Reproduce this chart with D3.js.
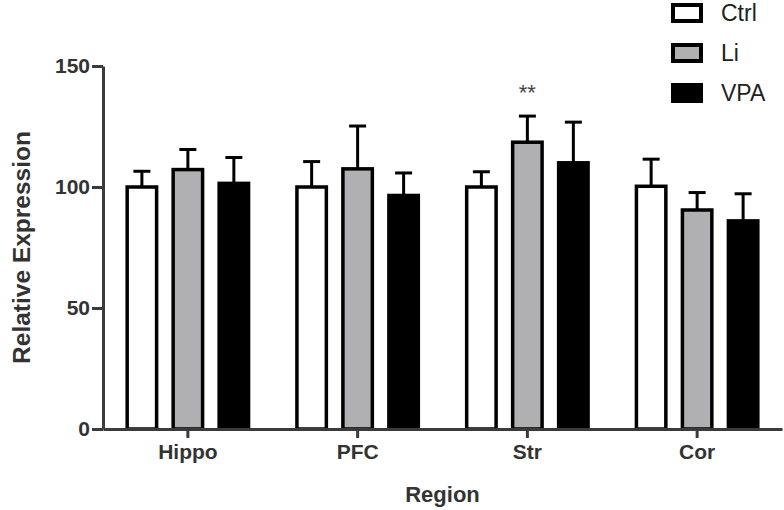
<!DOCTYPE html>
<html lang="en">
<head>
    <meta charset="UTF-8">
    <title>Relative Expression by Region</title>
    <style>
        body {
            margin: 0;
            background: #fff;
            font-family: 'Liberation Sans', Arial, sans-serif;
        }
        .axis path,
        .axis line {
            stroke: #3b3b3b;
            stroke-width: 3px;
        }
        .axis text {
            font: bold 21px 'Liberation Sans', Arial, sans-serif;
            fill: #333;
        }
        .axis-title {
            font-weight: bold;
            fill: #333;
        }
        .legend text {
            font: 23px 'Liberation Sans', Arial, sans-serif;
            fill: #222;
        }
    </style>
</head>
<body>
    <div id="chart"></div>

    <script src="https://d3js.org/d3.v7.min.js"></script>
    <script>
        // данные
        const regions = ["Hippo", "PFC", "Str", "Cor"];
        const groups = ["Ctrl", "Li", "VPA"];
        const ctrlMean = [100, 100, 100, 100.3];
        const liMean = [107.2, 107.5, 118.5, 90.5];
        const vpaMean = [101.5, 96.5, 110, 86];
        const ctrlErr = [6.5, 10.5, 6.3, 11.2];
        const liErr = [8.3, 17.7, 10.8, 7.2];
        const vpaErr = [10.7, 9.3, 16.8, 11.2];
        const liStars = ["", "", "**", ""];
        const yTicks = [0, 50, 100, 150];

        const fills = {Ctrl: "#ffffff", Li: "#b0b0b2", VPA: "#000000"};

        const width = 784, height = 510;
        const margin = {top: 66, right: 2, bottom: 81, left: 103};

        const svg = d3.select("#chart")
          .append("svg")
            .attr("width", width)
            .attr("height", height);

        const y = d3.scaleLinear()
            .domain([0, 150])
            .range([height - margin.bottom, margin.top]);

        const x0 = d3.scaleBand()
            .domain(regions)
            .range([margin.left, width - margin.right]);

        const x1 = d3.scaleBand()
            .domain(groups)
            .range([-60.7, 60.7])
            .paddingInner(0.36);

        const means = {Ctrl: ctrlMean, Li: liMean, VPA: vpaMean};
        const errs = {Ctrl: ctrlErr, Li: liErr, VPA: vpaErr};

        const rows = [];
        regions.forEach((r, i) => {
            groups.forEach(g => {
                rows.push({region: r, group: g, mean: means[g][i], err: errs[g][i],
                    star: g === "Li" ? liStars[i] : ""});
            });
        });

        const cx = d => x0(d.region) + x0.bandwidth() / 2 + x1(d.group) + x1.bandwidth() / 2;

        // планки погрешностей (только вверх)
        const eb = svg.append("g")
            .attr("stroke", "#000")
            .attr("stroke-width", 3);

        eb.selectAll(".stem")
            .data(rows)
            .join("line")
              .attr("x1", cx)
              .attr("x2", cx)
              .attr("y1", d => y(d.mean))
              .attr("y2", d => y(d.mean + d.err));

        eb.selectAll(".cap")
            .data(rows)
            .join("line")
              .attr("x1", d => cx(d) - 8.5)
              .attr("x2", d => cx(d) + 8.5)
              .attr("y1", d => y(d.mean + d.err))
              .attr("y2", d => y(d.mean + d.err));

        svg.append("g")
          .selectAll("rect")
          .data(rows)
          .join("rect")
            .attr("x", d => cx(d) - x1.bandwidth() / 2)
            .attr("y", d => y(d.mean))
            .attr("width", x1.bandwidth())
            .attr("height", d => y(0) - y(d.mean))
            .attr("fill", d => fills[d.group])
            .attr("stroke", "#000")
            .attr("stroke-width", 3.5);

        // звездочки значимости
        svg.append("g")
          .selectAll("text")
          .data(rows.filter(d => d.star))
          .join("text")
            .attr("x", cx)
            .attr("y", d => y(d.mean + d.err) - 16)
            .attr("text-anchor", "middle")
            .style("font", "22px 'Liberation Sans', Arial, sans-serif")
            .attr("fill", "#444")
            .text(d => d.star);

        svg.append("g")
            .attr("class", "axis")
            .attr("transform", `translate(0,${y(0)})`)
            .call(d3.axisBottom(x0).tickSize(9).tickSizeOuter(0).tickPadding(6));

        svg.append("g")
            .attr("class", "axis")
            .attr("transform", `translate(${margin.left},0)`)
            .call(d3.axisLeft(y).tickValues(yTicks).tickSize(11).tickSizeOuter(0).tickPadding(2));

        svg.append("text")
            .attr("class", "axis-title")
            .attr("transform", `translate(30,${(y(0) + y(150)) / 2}) rotate(-90)`)
            .attr("text-anchor", "middle")
            .style("font-size", "24.5px")
            .text("Relative Expression");

        svg.append("text")
            .attr("class", "axis-title")
            .attr("x", (margin.left + width - margin.right) / 2)
            .attr("y", 502)
            .attr("text-anchor", "middle")
            .style("font-size", "22px")
            .text("Region");

        // легенда
        const legend = svg.append("g")
            .attr("class", "legend")
            .selectAll("g")
            .data(groups)
            .join("g")
              .attr("transform", (d, i) => `translate(673,${5 + i * 40})`);

        legend.append("rect")
            .attr("width", 28)
            .attr("height", 16)
            .attr("fill", d => fills[d])
            .attr("stroke", "#000")
            .attr("stroke-width", 4);

        legend.append("text")
            .attr("x", 48)
            .attr("y", 8)
            .attr("dy", "0.35em")
            .text(d => d);
    </script>
</body>
</html>
